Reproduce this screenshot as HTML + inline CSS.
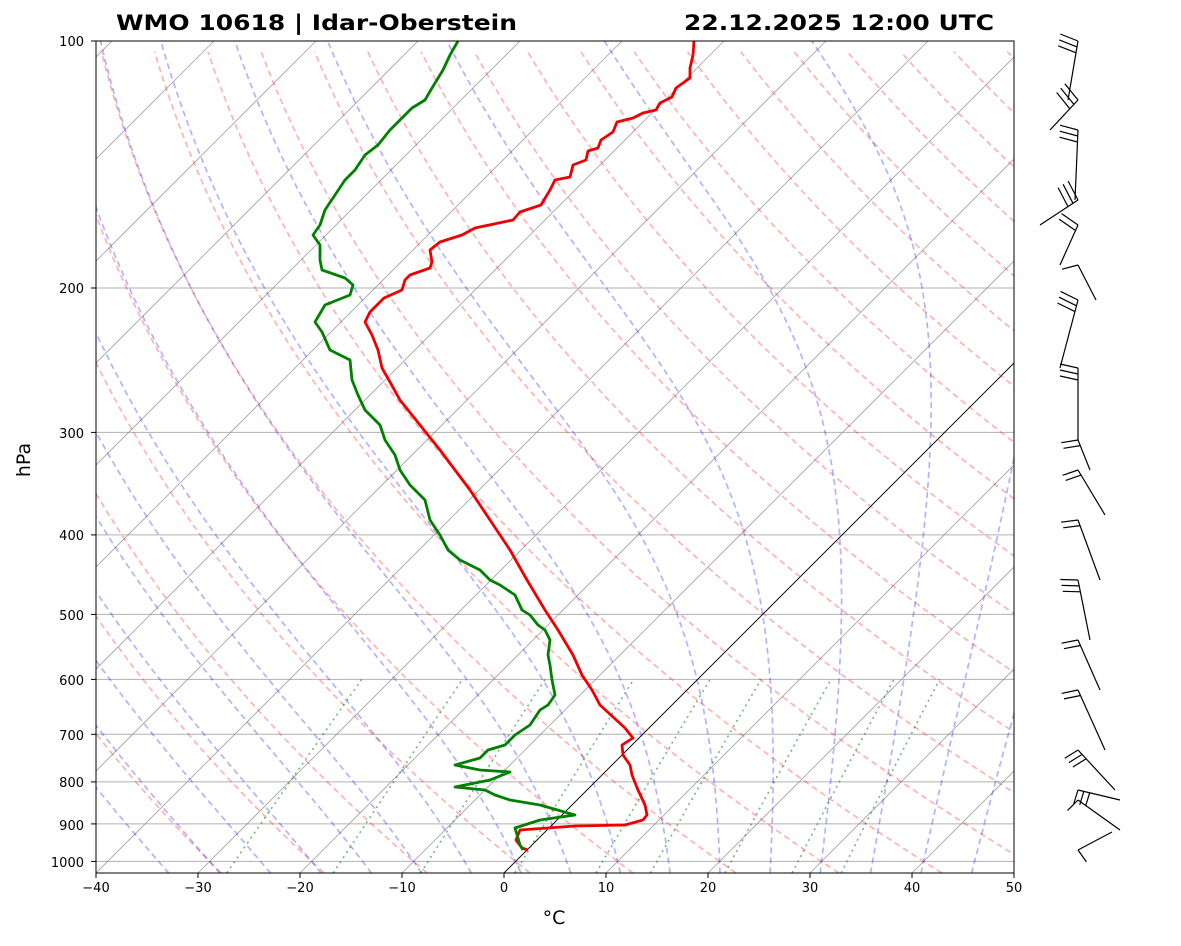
<!DOCTYPE html>
<html><head><meta charset="utf-8"><style>
body{margin:0;background:#fff;}
svg text{font-family:"DejaVu Sans","Liberation Sans",sans-serif;}
</style></head><body>
<svg id="s" width="1181" height="941" xmlns="http://www.w3.org/2000/svg">
<defs><clipPath id="c"><rect x="96" y="41" width="918" height="832"/></clipPath></defs>
<g id="g" clip-path="url(#c)"></g>
<g id="prof" clip-path="url(#c)"></g>
<rect x="96" y="41" width="918" height="832" fill="none" stroke="#000" stroke-width="1"/>
<g id="barbs" stroke="#000" stroke-width="1.2" fill="none"></g>
<g id="ticks" stroke="#000" stroke-width="1"></g>
<text x="116" y="30" font-size="21" font-weight="bold" textLength="401" lengthAdjust="spacingAndGlyphs">WMO 10618 | Idar-Oberstein</text>
<text x="684" y="30" font-size="21" font-weight="bold" textLength="310" lengthAdjust="spacingAndGlyphs">22.12.2025 12:00 UTC</text>
<g font-size="13" text-anchor="end">
<text x="84" y="46">100</text><text x="84" y="293">200</text><text x="84" y="438">300</text>
<text x="84" y="540">400</text><text x="84" y="620">500</text><text x="84" y="685">600</text>
<text x="84" y="740">700</text><text x="84" y="787">800</text><text x="84" y="830">900</text>
<text x="84" y="867">1000</text></g>
<g font-size="13" text-anchor="middle">
<text x="96" y="892">−40</text><text x="198" y="892">−30</text><text x="300" y="892">−20</text>
<text x="402" y="892">−10</text><text x="504" y="892">0</text><text x="606" y="892">10</text>
<text x="708" y="892">20</text><text x="810" y="892">30</text><text x="912" y="892">40</text>
<text x="1014" y="892">50</text></g>
<text x="554" y="924" font-size="19" text-anchor="middle">°C</text>
<text x="30" y="460" font-size="19" text-anchor="middle" transform="rotate(-90 30 460)">hPa</text>
</svg>
<script>
var NS="http://www.w3.org/2000/svg";
function Y(p){return 41+356.3*Math.log(p/100);}
function X(T,p){var y=Y(p);return 96+(T+40)*10.2+(873-y);}
var PB=100*Math.exp(832/356.3);
var g=document.getElementById('g');
function line(pts,st){var e=document.createElementNS(NS,'polyline');e.setAttribute('points',pts.map(function(q){return q[0].toFixed(1)+','+q[1].toFixed(1)}).join(' '));e.setAttribute('fill','none');for(var k in st)e.setAttribute(k,st[k]);return e;}
[100,200,300,400,500,600,700,800,900,1000].forEach(function(p){g.appendChild(line([[96,Y(p)],[1014,Y(p)]],{stroke:'#b0b0b0','stroke-width':1}));});
for(var T=-150;T<=50;T+=10){g.appendChild(line([[X(T,PB),Y(PB)],[X(T,100),Y(100)]],{stroke:'#888','stroke-width':0.8,'stroke-opacity':0.8}));}
g.appendChild(line([[X(0,PB),Y(PB)],[X(0,100),Y(100)]],{stroke:'#000','stroke-width':0.9}));
for(var th=-30;th<=200;th+=10){var pts=[];for(var p=PB;p>=99;p-=5){var t=(th+273.15)*Math.pow(p/1000,0.2857)-273.15;pts.push([X(t,p),Y(p)]);}g.appendChild(line(pts,{stroke:'#f00','stroke-opacity':0.3,'stroke-width':1.7,'stroke-dasharray':'6,4'}));}
function es(t){return 6.112*Math.exp(17.67*t/(t+243.5));}
function step(p,t,dp){var rs=0.622*es(t-273.15)/(p-es(t-273.15));var Lv=2.501e6,Rd=287,Cp=1005;var d=(Rd*t+Lv*rs)/(Cp+Lv*Lv*rs*0.622/(Rd*t*t))/p;return t+d*dp;}
for(var t0=-35;t0<=50;t0+=5){var t=t0+273.15;
 var tt=t,pp=1000,down=[];while(pp<PB){tt=step(pp,tt,2);pp+=2;down.unshift([X(tt-273.15,pp),Y(pp)]);}
 var pts=down.concat([[X(t0,1000),Y(1000)]]);tt=t;pp=1000;while(pp>100){tt=step(pp,tt,-2);pp-=2;pts.push([X(tt-273.15,pp),Y(pp)]);}
 g.appendChild(line(pts,{stroke:'#00f','stroke-opacity':0.3,'stroke-width':1.7,'stroke-dasharray':'6,4'}));}
[0.0004,0.001,0.002,0.004,0.007,0.01,0.016,0.024,0.032].forEach(function(w){var pts=[];for(var p=PB;p>=600;p-=10){var e=p*w/(0.622+w);var l=Math.log(e/6.112);var td=243.5*l/(17.67-l);pts.push([X(td,p),Y(p)]);}var pp=600,e=pp*w/(0.622+w),l=Math.log(e/6.112),td=243.5*l/(17.67-l);pts.push([X(td,pp),Y(pp)]);g.appendChild(line(pts,{stroke:'#008000','stroke-opacity':0.55,'stroke-width':1.6,'stroke-dasharray':'2,4'}));});
var pr=document.getElementById('prof');
var Tp=[[694,41],[693,55],[690,68],[690,78],[676,88],[672,97],[660,103],[656,110],[643,113],[633,118],[617,122],[613,132],[601,140],[598,148],[588,151],[586,160],[573,165],[570,177],[555,180],[550,190],[541,205],[520,212],[513,220],[475,228],[462,235],[440,242],[430,250],[432,262],[430,268],[410,275],[405,280],[402,290],[384,298],[370,312],[365,322],[372,335],[378,350],[382,368],[390,382],[400,400],[420,425],[440,450],[470,490],[490,520],[510,550],[527,580],[545,610],[558,630],[573,655],[582,675],[592,690],[600,705],[625,728],[633,738],[622,745],[623,755],[630,765],[632,775],[638,790],[645,805],[647,815],[643,820],[625,825],[575,826],[520,830],[516,840],[522,848],[528,850]];
var Dp=[[458,41],[450,55],[443,70],[432,88],[425,100],[412,108],[400,120],[390,130],[378,145],[365,155],[355,170],[345,180],[335,195],[325,210],[320,225],[313,235],[320,245],[320,260],[322,270],[345,278],[353,285],[350,295],[325,305],[315,322],[322,332],[330,350],[350,360],[352,380],[358,395],[365,410],[380,425],[385,440],[395,455],[400,470],[410,485],[425,500],[430,520],[440,535],[448,550],[460,560],[470,565],[480,570],[490,580],[500,585],[515,595],[522,610],[530,615],[538,625],[545,630],[550,640],[548,655],[550,665],[552,680],[555,695],[548,705],[540,710],[530,725],[515,735],[505,745],[488,750],[480,758],[455,765],[480,770],[510,772],[490,780],[455,787],[485,790],[495,795],[510,800],[540,805],[575,815],[540,820],[515,828],[520,845],[523,850]];
pr.appendChild(line(Tp,{stroke:'#e00','stroke-width':2.8,'stroke-linejoin':'round'}));
pr.appendChild(line(Dp,{stroke:'#008000','stroke-width':2.8,'stroke-linejoin':'round'}));
var tk=document.getElementById('ticks');
[100,200,300,400,500,600,700,800,900,1000].forEach(function(p){tk.appendChild(line([[91,Y(p)],[96,Y(p)]],{stroke:'#000'}));});
for(var T=-40;T<=50;T+=10){var x=96+(T+40)*10.2;tk.appendChild(line([[x,873],[x,878]],{stroke:'#000'}));}
var b=document.getElementById('barbs');
var B=[[1078,41,1068,100,3],[1078,100,1050,130,3],[1078,130,1075,200,3],[1078,200,1040,225,3],[1078,225,1060,265,2],[1078,265,1096,300,1],[1078,300,1060,368,3],[1078,368,1078,440,3],[1078,440,1090,470,2],[1078,470,1105,515,2],[1078,520,1100,580,2],[1078,580,1090,640,3],[1078,640,1100,690,2],[1078,690,1105,750,2],[1078,750,1115,790,3],[1078,790,1120,800,3],[1078,800,1120,830,1],[1078,850,1112,832,1]];
B.forEach(function(q){b.appendChild(line([[q[2],q[3]],[q[0],q[1]]],{}));var dx=q[2]-q[0],dy=q[3]-q[1],L=Math.hypot(dx,dy);for(var i=0;i<q[4];i++){var f=i*6/L;var sx=q[0]+dx*f,sy=q[1]+dy*f;b.appendChild(line([[sx,sy],[sx-dy/L*18,sy+dx/L*18-4]],{}));}});
</script>
</body></html>
